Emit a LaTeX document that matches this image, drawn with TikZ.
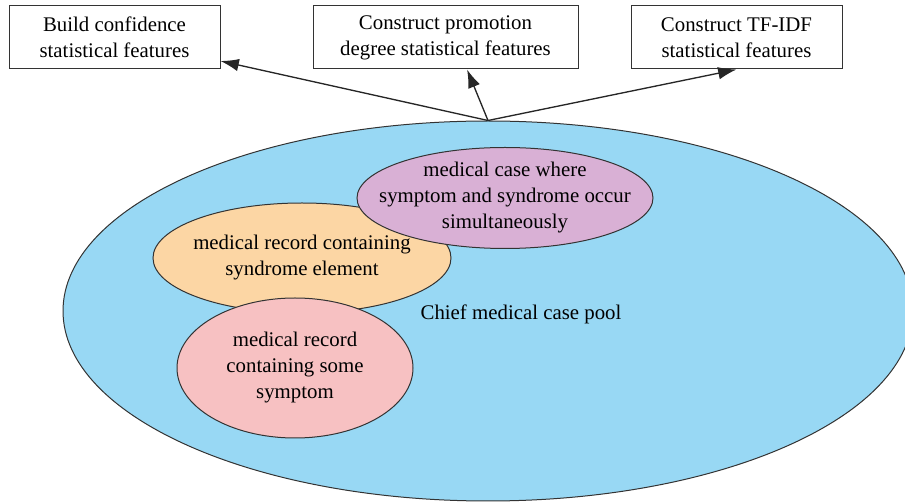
\documentclass[tikz,border=0pt]{standalone}
\usepackage{fontspec}
\setmainfont{Liberation Serif}
\usepackage{xcolor}
\usepackage{tikz}
\usetikzlibrary{shapes.geometric, arrows.meta, positioning}

\definecolor{poolblue}{RGB}{152,216,244}
\definecolor{casepurple}{RGB}{217,176,213}
\definecolor{recordorange}{RGB}{252,214,164}
\definecolor{symptompink}{RGB}{247,193,194}

\begin{document}
\begin{tikzpicture}[
            x=0.6pt, y=-0.6pt,
            font=\fontsize{12.5}{15.6}\selectfont,
            featbox/.style={rectangle, draw=black!80, line width=0.6pt, minimum width=126.6pt, minimum height=37.8pt, align=center, inner sep=2pt},
            blob/.style={ellipse, draw=black!80, line width=0.6pt, inner sep=0pt},
            inside/.style={label={[align=center]center:#1}},
            link/.style={-{Latex[length=11pt, width=7.5pt]}, line width=0.8pt, black!85}
        ]

        \useasboundingbox (0,0) rectangle (905,504);
        \clip (0,0) rectangle (905,504);

        % Case pool (big ellipse)
        \node[blob, fill=poolblue, minimum width=510pt, minimum height=228pt] (pool) at (488,311) {};
        \node (poollabel) at (521,314) {Chief medical case pool};

        % Sub-pools (drawn in overlap order)
        \node[blob, fill=recordorange, minimum width=178.8pt, minimum height=66pt,
            inside={medical record containing\\syndrome element}] (syndrome) at (302,258) {};
        \node[blob, fill=casepurple, minimum width=177.6pt, minimum height=60.6pt,
            inside={medical case where\\symptom and syndrome occur\\simultaneously}] (both) at (505,198) {};
        \node[blob, fill=symptompink, minimum width=141.6pt, minimum height=84pt,
            inside={medical record\\containing some\\symptom}] (symptom) at (295,368) {};

        % Feature boxes
        \node[featbox] (confidence) at (114.5,37.5) {Build confidence\\statistical features};
        \node[featbox, minimum width=159pt] (promotion) at (445.5,37.5) {Construct promotion\\degree statistical features};
        \node[featbox] (tfidf) at (736.5,37.5) {Construct TF-IDF\\statistical features};

        % Edges
        \draw[link] (pool.north) -- (confidence);
        \draw[link] (pool.north) -- (promotion.-56);
        \draw[link] (pool.north) -- (tfidf.south);

    \end{tikzpicture}
\end{document}
